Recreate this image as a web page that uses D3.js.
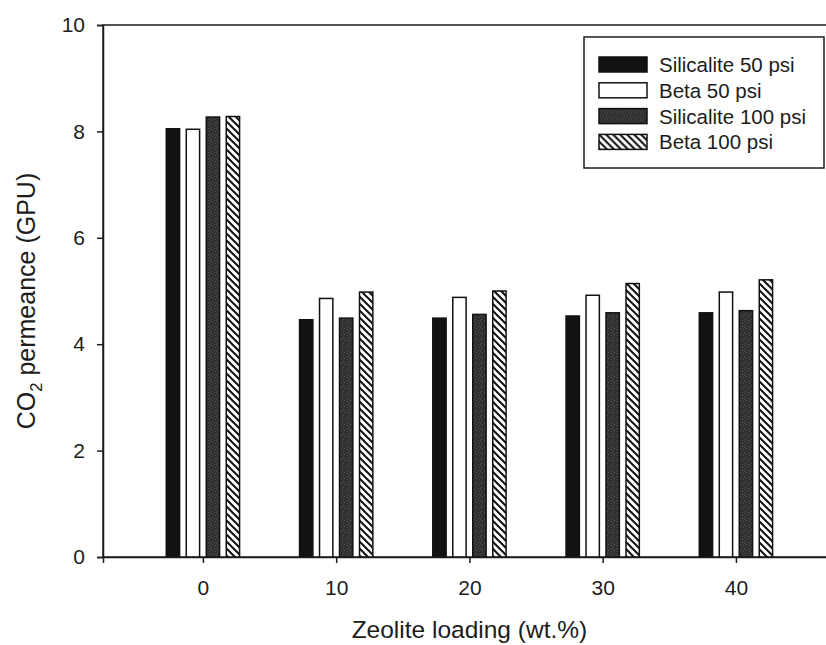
<!DOCTYPE html>
<html>
<head>
<meta charset="utf-8">
<script src="https://cdn.jsdelivr.net/npm/d3@7"></script>
<style>
  html, body { margin: 0; padding: 0; background: #fff; }
  svg { display: block; font-family: "Liberation Sans", Arial, sans-serif; }
</style>
</head>
<body>
<svg id="chart" width="826" height="645"></svg>
<script>
// Zeolite loading (wt.%) on the x axis
const loadings = [0, 10, 20, 30, 40];
const seriesNames = ["Silicalite 50 psi", "Beta 50 psi", "Silicalite 100 psi", "Beta 100 psi"];
// CO2 permeance (GPU) for each loading
const silicalite50 = [8.05, 4.46, 4.49, 4.53, 4.59];
const beta50 = [8.04, 4.86, 4.88, 4.92, 4.98];
const silicalite100 = [8.27, 4.49, 4.56, 4.59, 4.63];
const beta100 = [8.28, 4.98, 5.00, 5.14, 5.21];
const yTicks = [0, 2, 4, 6, 8, 10];
const xTicks = [0, 10, 20, 30, 40];

const seriesValues = [silicalite50, beta50, silicalite100, beta100];

const svg = d3.select("#chart");
const ink = "#1c1c1c";

const plotLeft = 103, plotTop = 25, plotBottom = 557;
const x = d3.scaleLinear().domain([-7.5, 55]).range([plotLeft, plotLeft + 62.5 * 13.325]);
const y = d3.scaleLinear().domain([0, 10]).range([plotBottom, plotTop]);
// position of each series inside a loading group, in x units
const inner = d3.scaleBand().domain(seriesNames).range([-3, 3]).paddingInner(1 / 3).paddingOuter(1 / 6);

// fills
const defs = svg.append("defs");
const hatch = defs.append("pattern").attr("id", "hatch")
  .attr("patternUnits", "userSpaceOnUse").attr("width", 7).attr("height", 7);
hatch.append("rect").attr("width", 7).attr("height", 7).attr("fill", "#fff");
hatch.append("path").attr("d", "M0,0 L7,7 M-1,6 L1,8 M6,-1 L8,1")
  .attr("stroke", "#111").attr("stroke-width", 2);

const speck = defs.append("pattern").attr("id", "speck")
  .attr("patternUnits", "userSpaceOnUse").attr("width", 6).attr("height", 6);
speck.append("rect").attr("width", 6).attr("height", 6).attr("fill", "#303030");
[[1, 1], [4, 2], [2, 4], [5, 5], [0, 3]].forEach(([px, py]) =>
  speck.append("rect").attr("x", px).attr("y", py).attr("width", 1).attr("height", 1).attr("fill", "#555"));

const fills = ["#121212", "#ffffff", "url(#speck)", "url(#hatch)"];

// plot frame (top edge visible, right edge falls outside the page)
svg.append("rect")
  .attr("x", x(-7.5)).attr("y", plotTop)
  .attr("width", x(55) - x(-7.5)).attr("height", plotBottom - plotTop)
  .attr("fill", "none").attr("stroke", ink).attr("stroke-width", 1.5);

// bars
seriesNames.forEach((name, si) => {
  svg.append("g").selectAll("rect")
    .data(loadings.map((l, i) => ({ l, v: seriesValues[si][i] })))
    .join("rect")
    .attr("x", d => x(d.l + inner(name)))
    .attr("width", d => x(d.l + inner(name) + inner.bandwidth()) - x(d.l + inner(name)))
    .attr("y", d => y(d.v))
    .attr("height", d => y(0) - y(d.v))
    .attr("fill", fills[si])
    .attr("stroke", "#111")
    .attr("stroke-width", 1.5);
});

// axes
const yAxis = svg.append("g").attr("transform", `translate(${plotLeft},0)`)
  .call(d3.axisLeft(y).tickValues(yTicks).tickSize(6).tickPadding(12).tickFormat(d3.format("d")));
const xAxis = svg.append("g").attr("transform", `translate(0,${plotBottom})`)
  .call(d3.axisBottom(x).tickValues(xTicks).tickSize(6).tickPadding(17).tickFormat(d3.format("d")));
[yAxis, xAxis].forEach(g => {
  g.select(".domain").attr("stroke", ink).attr("stroke-width", 1.5);
  g.selectAll(".tick line").attr("stroke", ink).attr("stroke-width", 1.5);
  g.selectAll(".tick text").attr("fill", ink).style("font-size", "21px")
    .style("font-family", "'Liberation Sans', Arial, sans-serif");
});

// axis titles
svg.append("text")
  .attr("x", x(20)).attr("y", 638)
  .attr("text-anchor", "middle").attr("fill", ink)
  .style("font-size", "24.5px")
  .text("Zeolite loading (wt.%)");

const yTitle = svg.append("text")
  .attr("transform", "translate(35,301) rotate(-90)")
  .attr("text-anchor", "middle").attr("fill", ink)
  .style("font-size", "25px");
yTitle.append("tspan").text("CO");
yTitle.append("tspan").attr("dy", 7).style("font-size", "16.5px").text("2");
yTitle.append("tspan").attr("dy", -7).text(" permeance (GPU)");

// legend
const legend = svg.append("g");
legend.append("rect")
  .attr("x", 584).attr("y", 37).attr("width", 240).attr("height", 131)
  .attr("fill", "#fff").attr("stroke", ink).attr("stroke-width", 1.5);
const rows = legend.selectAll("g.row").data(seriesNames).join("g")
  .attr("class", "row")
  .attr("transform", (d, i) => `translate(599,${57 + i * 25.8})`);
rows.append("rect")
  .attr("width", 48).attr("height", 15)
  .attr("fill", (d, i) => fills[i])
  .attr("stroke", "#111").attr("stroke-width", 1.5);
rows.append("text")
  .attr("x", 60).attr("y", 15)
  .attr("fill", ink)
  .style("font-size", "20.5px")
  .text(d => d);
</script>
</body>
</html>
